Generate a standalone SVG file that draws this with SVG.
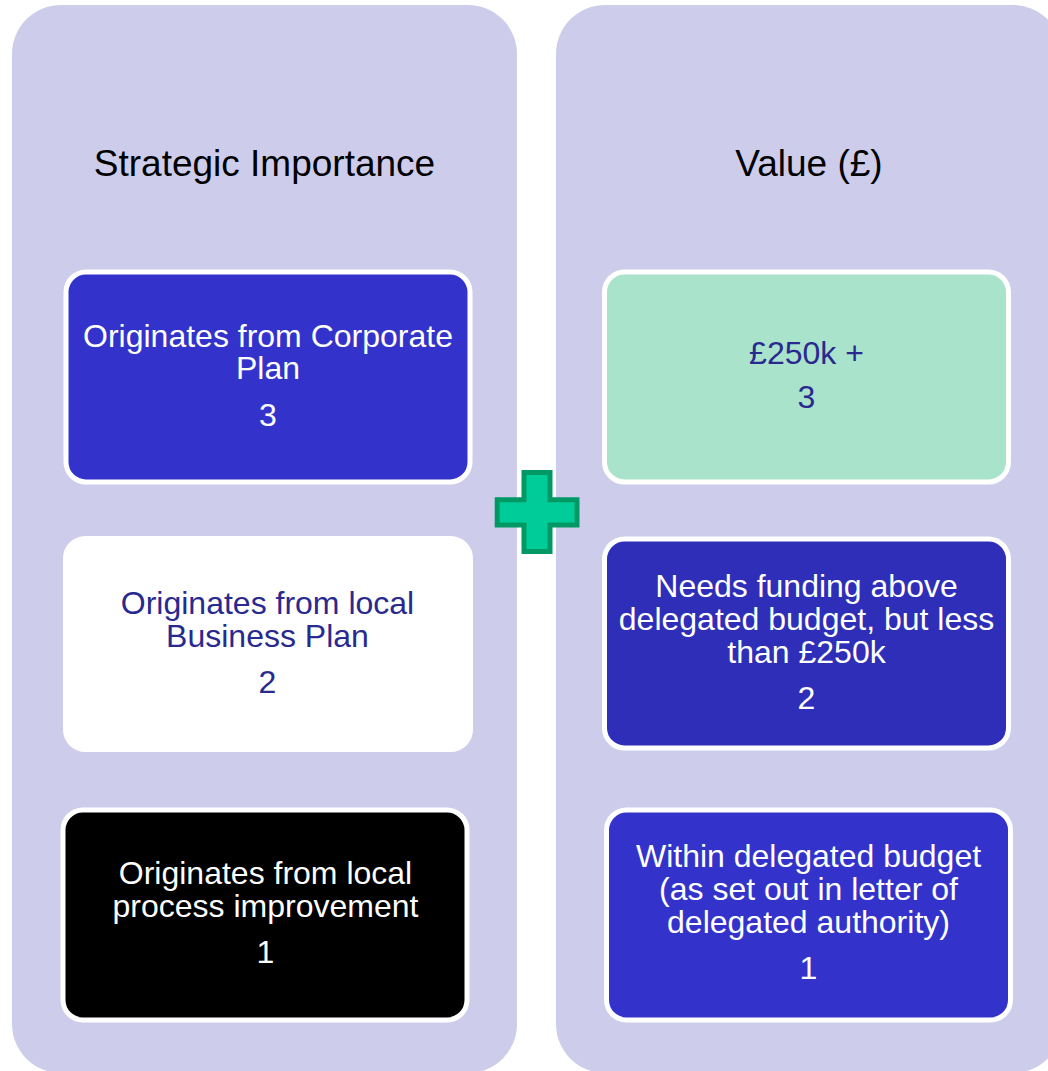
<svg xmlns="http://www.w3.org/2000/svg" width="1048" height="1071" viewBox="0 0 1048 1071">
  <style>
    .panel { fill: #CDCDEB; }
    .box { stroke: #FFFFFF; stroke-width: 5; }
    .title { font-family: "Liberation Sans", Arial, sans-serif; font-size: 37px; fill: #000000; text-anchor: middle; }
    .label { font-family: "Liberation Sans", Arial, sans-serif; font-size: 32px; text-anchor: middle; }
    .light { fill: #FFFFFF; }
    .dark { fill: #29298F; }
  </style>
  <rect width="1048" height="1071" fill="#FFFFFF"/>

  <!-- column panels -->
  <g id="panel-strategic">
    <rect class="panel" x="12" y="5" width="505" height="1068" rx="49" ry="49"/>
    <text class="title" x="264.5" y="176">Strategic Importance</text>
  </g>
  <g id="panel-value">
    <rect class="panel" x="556" y="5" width="506" height="1068" rx="49" ry="49"/>
    <text class="title" x="809" y="176">Value (£)</text>
  </g>

  <!-- strategic importance levels -->
  <g id="si-3">
    <rect class="box" x="66" y="272" width="404" height="210" rx="20" fill="#3333CC"/>
    <text class="label light" x="268" y="346.7">Originates from Corporate</text>
    <text class="label light" x="268" y="379.3">Plan</text>
    <text class="label light" x="268" y="425.7">3</text>
  </g>
  <g id="si-2">
    <rect class="box" x="65.5" y="538.5" width="405" height="211" rx="20" fill="#FFFFFF"/>
    <text class="label dark" x="267.5" y="614">Originates from local</text>
    <text class="label dark" x="267.5" y="646.7">Business Plan</text>
    <text class="label dark" x="267.5" y="692.7">2</text>
  </g>
  <g id="si-1">
    <rect class="box" x="63" y="810" width="404" height="210" rx="20" fill="#000000"/>
    <text class="label light" x="265.5" y="884.3">Originates from local</text>
    <text class="label light" x="265.5" y="916.7">process improvement</text>
    <text class="label light" x="265.5" y="962.7">1</text>
  </g>

  <!-- value levels -->
  <g id="value-3">
    <rect class="box" x="604.5" y="272" width="404" height="210" rx="20" fill="#AAE3CB"/>
    <text class="label dark" x="806.5" y="364.3">£250k +</text>
    <text class="label dark" x="806.5" y="408.3">3</text>
  </g>
  <g id="value-2">
    <rect class="box" x="604.5" y="539" width="404" height="209" rx="20" fill="#2E2EB8"/>
    <text class="label light" x="806.5" y="597.3">Needs funding above</text>
    <text class="label light" x="806.5" y="630">delegated budget, but less</text>
    <text class="label light" x="806.5" y="663.3">than £250k</text>
    <text class="label light" x="806.5" y="709.3">2</text>
  </g>
  <g id="value-1">
    <rect class="box" x="606.5" y="810" width="404" height="210" rx="20" fill="#3333CC"/>
    <text class="label light" x="808.5" y="867.3">Within delegated budget</text>
    <text class="label light" x="808.5" y="900">(as set out in letter of</text>
    <text class="label light" x="808.5" y="932.7">delegated authority)</text>
    <text class="label light" x="808.5" y="979.3">1</text>
  </g>

  <!-- plus sign joining the two scores -->
  <g id="plus">
    <path d="M524 472.5 H550 V499.8 H577 V525 H550 V551.5 H524 V525 H497.2 V499.8 H524 Z"
          fill="#00CC99" stroke="#009966" stroke-width="5" stroke-linejoin="miter"/>
  </g>

  <g id="connectors"/>
</svg>
